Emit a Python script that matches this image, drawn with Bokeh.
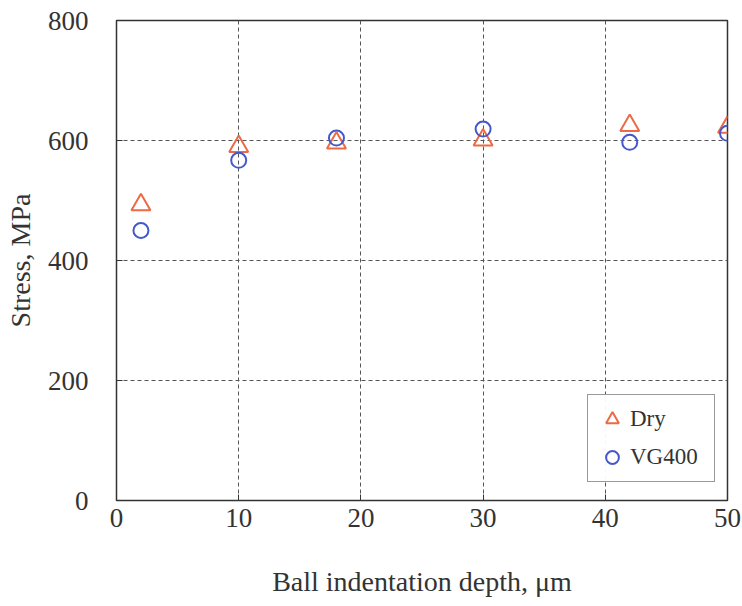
from bokeh.plotting import figure
from bokeh.models import Range1d, Legend, LegendItem, FixedTicker
from bokeh.embed import file_html
from bokeh.resources import INLINE

depth = [2, 10, 18, 30, 42, 50]
dry = [493, 590, 596, 601, 625, 622]
vg400 = [450, 567, 604, 619, 597, 612]
x_ticks = [0, 10, 20, 30, 40, 50]
y_ticks = [0, 200, 400, 600, 800]

FONT = "Liberation Serif"

p = figure(width=742, height=606, output_backend="svg", toolbar_location=None,
           x_range=Range1d(0, 50), y_range=Range1d(0, 800),
           min_border_left=116, min_border_right=15, min_border_top=20, min_border_bottom=106)
p.background_fill_color = "white"
p.border_fill_color = "white"
p.outline_line_color = "#333333"
p.outline_line_width = 1.5

for ax in (p.xaxis[0], p.yaxis[0]):
    ax.axis_line_color = None
    ax.major_tick_in = 6
    ax.major_tick_out = 0
    ax.minor_tick_line_color = None
    ax.major_tick_line_color = "#333333"
    ax.major_label_text_font = FONT
    ax.major_label_text_font_size = "27px"
    ax.major_label_text_color = "#333333"
    ax.axis_label_text_font = FONT
    ax.axis_label_text_font_size = "28px"
    ax.axis_label_text_font_style = "normal"
    ax.axis_label_text_color = "#333333"

p.xaxis.ticker = FixedTicker(ticks=x_ticks)
p.yaxis.ticker = FixedTicker(ticks=y_ticks)
p.xaxis.axis_label = "Ball indentation depth, \u03bcm"
p.yaxis.axis_label = "Stress, MPa"
p.xaxis.major_label_standoff = 8
p.yaxis.major_label_standoff = 28
p.xaxis.axis_label_standoff = 36
p.yaxis.axis_label_standoff = 9

p.xgrid.grid_line_color = "#555555"
p.ygrid.grid_line_color = "#555555"
p.xgrid.grid_line_dash = "4 3"
p.ygrid.grid_line_dash = "4 3"
p.xgrid.grid_line_width = 1
p.ygrid.grid_line_width = 1

r1 = p.scatter(depth, dry, marker="triangle", size=19, fill_color=None,
               line_color="#ec6a45", line_width=2)
r2 = p.scatter(depth, vg400, marker="circle", size=15, fill_color=None,
               line_color="#4458cc", line_width=2)

legend = Legend(items=[LegendItem(label="Dry", renderers=[r1]),
                       LegendItem(label="VG400", renderers=[r2])],
                location=(471, 18))
legend.label_text_font = FONT
legend.label_text_font_size = "23px"
legend.label_text_color = "#333333"
legend.border_line_color = "#333333"
legend.border_line_width = 1
legend.padding = 8
legend.spacing = 6
legend.glyph_width = 32
legend.glyph_height = 32
legend.label_standoff = 2
legend.label_height = 32
legend.label_width = 76
legend.margin = 0
p.add_layout(legend, "center")

open("out.html", "w").write(file_html(p, INLINE))
